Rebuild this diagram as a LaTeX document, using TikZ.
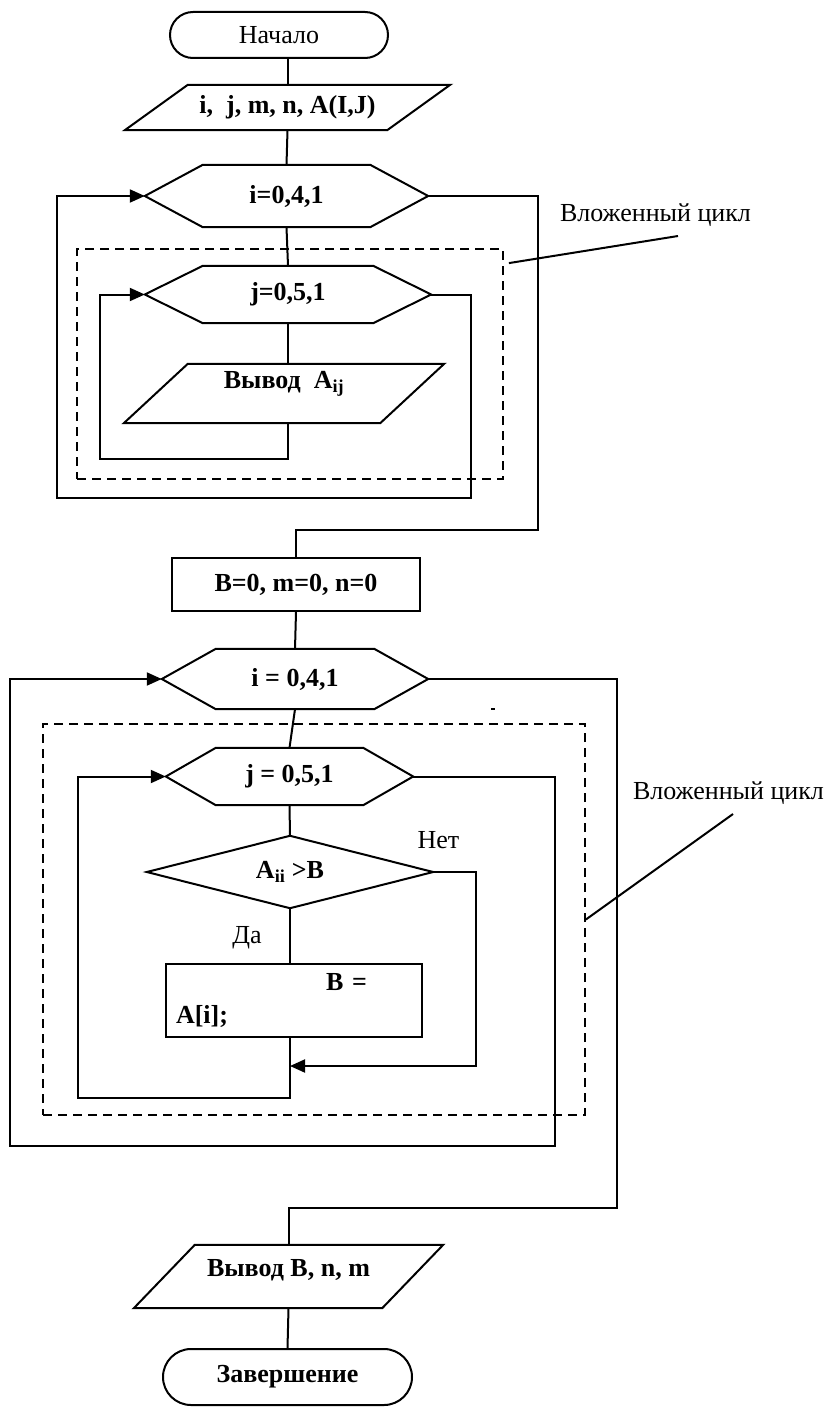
\documentclass[tikz,border=0pt]{standalone}
\usepackage{fontspec}
\setmainfont{Liberation Serif}
\usetikzlibrary{arrows.meta,calc}
\newcommand{\hexout}[2]{\draw[fc] (#1.west) -- ([xshift=#2]#1.north west) -- ([xshift=-#2]#1.north east) -- (#1.east) -- ([xshift=-#2]#1.south east) -- ([xshift=#2]#1.south west) -- cycle;}
\newcommand{\paraout}[2]{\draw[fc] ([xshift=#2]#1.north west) -- (#1.north east) -- ([xshift=-#2]#1.south east) -- (#1.south west) -- cycle;}
\newcommand{\diamout}[1]{\draw[fc] (#1.north) -- (#1.east) -- (#1.south) -- (#1.west) -- cycle;}

\begin{document}
\begin{tikzpicture}[x=1pt,y=-1pt,>={Triangle[length=15pt,width=13pt]},
  fc/.style={line width=2pt},
  shp/.style={inner sep=0pt,font=\fontsize{26}{30}\selectfont\bfseries},
  txt/.style={inner sep=0pt,font=\fontsize{26}{30}\selectfont},
  term/.style={draw,fc,rounded corners=#1},
  nestbox/.style={draw,line width=1.8pt,dash pattern=on 9pt off 6pt,inner sep=0pt}]
  \useasboundingbox (0,0) rectangle (831,1407);

  \node[txt,term=23pt,minimum width=218pt,minimum height=46pt] (start) at (279,35) {Начало};
  \node[shp,minimum width=325pt,minimum height=45pt] (in1) at (287.5,107.5) {i,\ \ j, m, n, A(I,J)};
  \node[shp,minimum width=283pt,minimum height=62pt] (hexI1) at (286.5,196) {i=0,4,1};
  \node[nestbox,minimum width=426pt,minimum height=230pt] (nest1) at (290,364) {};
  \node[shp,minimum width=286pt,minimum height=57pt] (hexJ1) at (288,294.5) {j=0,5,1};
  \node[shp,minimum width=320pt,minimum height=59pt] (out1) at (284,393.5) {};
  \node[shp] (out1txt) at (284,384) {Вывод\ \ A\textsubscript{ij}};
  \node[shp,draw,fc,minimum width=248pt,minimum height=53pt] (init) at (296,584.5) {B=0, m=0, n=0};
  \node[shp,minimum width=266pt,minimum height=60pt] (hexI2) at (295,679) {i = 0,4,1};
  \node[nestbox,minimum width=542pt,minimum height=391pt] (nest2) at (314,919.5) {};
  \node[shp,minimum width=247pt,minimum height=57pt] (hexJ2) at (289.5,776.5) {j = 0,5,1};
  \node[shp,minimum width=286pt,minimum height=72pt] (dec) at (290,872) {A\textsubscript{ii} >B};
  \node[shp,draw,fc,minimum width=256pt,minimum height=73pt,text width=236pt,align=left] (assign) at (294,1000.5) {\hspace*{150pt}B =\\[3pt]A[i];};
  \node[shp,minimum width=309pt,minimum height=63pt] (out2) at (288.5,1276.5) {};
  \node[shp] (out2txt) at (288.5,1270) {Вывод B, n, m};
  \node[shp,term=28pt,minimum width=249pt,minimum height=56pt] (stop) at (287.5,1377) {Завершение};

  \node[txt] (lab1) at (655.5,215) {Вложенный цикл};
  \node[txt] (lab2) at (728.5,793) {Вложенный цикл};
  \node[txt] (no) at (438.5,840) {Нет};
  \node[txt] (yes) at (247,938) {Да};

  \paraout{in1}{63pt}
  \hexout{hexI1}{58pt}
  \hexout{hexJ1}{58pt}
  \paraout{out1}{64pt}
  \hexout{hexI2}{54pt}
  \hexout{hexJ2}{50pt}
  \diamout{dec}
  \paraout{out2}{61pt}

  \coordinate (c1) at (471,498);
  \coordinate (c2) at (57,498);
  \coordinate (c3) at (538,530);
  \coordinate (r1) at (100,459);
  \coordinate (c4) at (476,1066);
  \coordinate (merge) at (290,1066);
  \coordinate (r2) at (78,1098);
  \coordinate (c6) at (555,1146);
  \coordinate (c7) at (10,1146);
  \coordinate (c8) at (617,1208);

  \draw[fc] (start.south -| in1.north) -- (in1.north);
  \draw[fc] (in1.south) -- (hexI1.north);
  \draw[fc] (hexI1.south) -- (hexJ1.north);
  \draw[fc] (hexJ1.south) -- (hexJ1.south |- out1.north);
  \draw[fc,->] (hexJ1.south |- out1.south) |- (r1) |- (hexJ1.west);
  \draw[fc,->] (hexJ1.east) -| (c1) -- (c2) |- (hexI1.west);
  \draw[fc] (hexI1.east) -| (c3) -| (init.north);
  \draw[fc] (init.south) -- (hexI2.north);
  \draw[fc] (hexI2.south) -- (hexJ2.north);
  \draw[fc] (hexJ2.south) -- (dec.north);
  \draw[fc] (dec.south) -- (dec.south |- assign.north);
  \draw[fc,->] (dec.east) -| (c4) -- (merge);
  \draw[fc,->] (merge |- assign.south) |- (r2) |- (hexJ2.west);
  \draw[fc,->] (hexJ2.east) -| (c6) -- (c7) |- (hexI2.west);
  \draw[fc] (hexI2.east) -| (c8) -| (out2.north);
  \draw[fc] (out2.south) -- (stop.north);

  \draw[fc] (678,236) -- ($(nest1.north east)+(5,15)$);
  \draw[fc] (733,814) -- (nest2.east);
  \draw[line width=1.5pt] (491,709) -- (495,709);
\end{tikzpicture}
\end{document}
